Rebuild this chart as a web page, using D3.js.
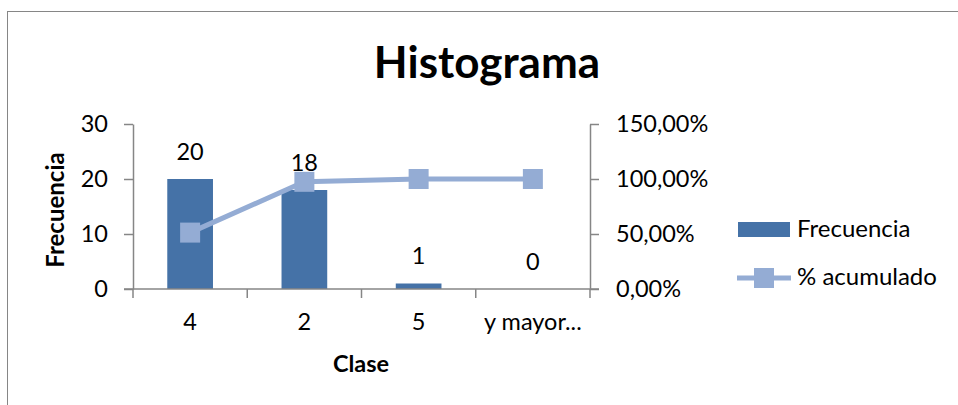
<!DOCTYPE html>
<html>
<head>
<meta charset="utf-8">
<script src="https://cdn.jsdelivr.net/npm/d3@7"></script>
<style>
  body { margin: 0; background: #fff; }
  svg { display: block; font-family: Lato, "Open Sans", sans-serif; }
</style>
</head>
<body>
<svg id="chart" width="958" height="405"></svg>
<script>
// chart data
const categories = ['4', '2', '5', 'y mayor...']
const frecuencia = [20, 18, 1, 0]
const acumulado = [51.28, 97.44, 100, 100]
const leftTicks = [0, 10, 20, 30]
const rightTicks = [0, 50, 100, 150]

const svg = d3.select('#chart')
const fs = '23.5px'

// outer frame
svg.append('rect')
    .attr('x', 7.5).attr('y', 11.5)
    .attr('width', 1000).attr('height', 500)
    .attr('fill', 'none')
    .attr('stroke', '#868686')
    .attr('stroke-width', 1)

var margin = { left: 133, right: 590, top: 124, bottom: 289 }

var x = d3.scaleBand()
    .domain(categories)
    .range([margin.left, margin.right])
    .paddingInner(0.6)
    .paddingOuter(0.3)
var xTicks = d3.scaleBand().domain(categories).range([margin.left, margin.right])

var y = d3.scaleLinear().domain([0, 30]).range([margin.bottom, margin.top])
var y2 = d3.scaleLinear().domain([0, 150]).range([margin.bottom, margin.top])

const axisColor = '#868686'

// title
svg.append('text')
    .attr('x', 487).attr('y', 78)
    .attr('text-anchor', 'middle')
    .style('font-size', '44px')
    .style('font-weight', 'bold')
    .text('Histograma')

// bars
svg.selectAll('.bar')
    .data(frecuencia)
    .enter().append('rect')
    .attr('class', 'bar')
    .attr('x', (d, i) => x(categories[i]))
    .attr('width', x.bandwidth())
    .attr('y', d => y(d))
    .attr('height', d => y(0) - y(d))
    .attr('fill', '#4572a7')

// left axis
let gl = svg.append('g')
    .attr('transform', 'translate(' + margin.left + ',0)')
    .call(d3.axisLeft(y).tickValues(leftTicks).tickSize(9).tickSizeOuter(0).tickPadding(16))
gl.select('.domain').attr('stroke', axisColor).attr('stroke-width', 1.5)
gl.selectAll('.tick line').attr('stroke', axisColor).attr('stroke-width', 1.5)
gl.selectAll('text').style('font-size', fs).attr('fill', '#000').attr('font-family', 'Lato')

// right axis
let gr = svg.append('g')
    .attr('transform', 'translate(' + margin.right + ',0)')
    .call(d3.axisRight(y2).tickValues(rightTicks).tickSize(9).tickSizeOuter(0).tickPadding(17)
        .tickFormat(d => d3.format('.2f')(d).replace('.', ',') + '%'))
gr.select('.domain').attr('stroke', axisColor).attr('stroke-width', 1.5)
gr.selectAll('.tick line').attr('stroke', axisColor).attr('stroke-width', 1.5)
gr.selectAll('text').style('font-size', fs).attr('fill', '#000').attr('font-family', 'Lato')

// bottom axis, ticks between categories
let gb = svg.append('g')
    .attr('transform', 'translate(0,' + margin.bottom + ')')
    .call(d3.axisBottom(x).tickSize(0).tickPadding(24))
gb.select('.domain').remove()
gb.selectAll('text').style('font-size', fs).attr('fill', '#000').attr('font-family', 'Lato')
svg.append('line')
    .attr('x1', margin.left - 9).attr('x2', margin.right + 9)
    .attr('y1', margin.bottom).attr('y2', margin.bottom)
    .attr('stroke', axisColor).attr('stroke-width', 1.5)
svg.selectAll('.xtick')
    .data(categories.concat(['end']))
    .enter().append('line')
    .attr('class', 'xtick')
    .attr('x1', (d, i) => i < categories.length ? xTicks(d) : margin.right)
    .attr('x2', (d, i) => i < categories.length ? xTicks(d) : margin.right)
    .attr('y1', margin.bottom).attr('y2', margin.bottom + 9)
    .attr('stroke', axisColor).attr('stroke-width', 1.5)

// cumulative line
const lineColor = '#94acd4'
let cx = (d, i) => x(categories[i]) + x.bandwidth() / 2
svg.append('path')
    .datum(acumulado)
    .attr('d', d3.line().x(cx).y(d => y2(d)))
    .attr('fill', 'none')
    .attr('stroke', lineColor)
    .attr('stroke-width', 5)
svg.selectAll('.marker')
    .data(acumulado)
    .enter().append('rect')
    .attr('class', 'marker')
    .attr('x', (d, i) => cx(d, i) - 10)
    .attr('y', d => y2(d) - 10)
    .attr('width', 20).attr('height', 20)
    .attr('fill', lineColor)

// data labels
svg.selectAll('.label')
    .data(frecuencia)
    .enter().append('text')
    .attr('class', 'label')
    .attr('x', (d, i) => cx(d, i))
    .attr('y', d => y(d) - 19.5)
    .attr('text-anchor', 'middle')
    .style('font-size', fs)
    .text(d => d)

// axis titles
svg.append('text')
    .attr('transform', 'translate(64,210) rotate(-90)')
    .attr('text-anchor', 'middle')
    .style('font-size', '24px')
    .style('font-weight', 'bold')
    .text('Frecuencia')
svg.append('text')
    .attr('x', 361).attr('y', 372)
    .attr('text-anchor', 'middle')
    .style('font-size', '23.5px')
    .style('font-weight', 'bold')
    .text('Clase')

// legend
svg.append('rect')
    .attr('x', 738).attr('y', 222)
    .attr('width', 52).attr('height', 15)
    .attr('fill', '#4572a7')
svg.append('text')
    .attr('x', 797).attr('y', 237)
    .style('font-size', '24px')
    .text('Frecuencia')
svg.append('line')
    .attr('x1', 737).attr('x2', 791)
    .attr('y1', 278).attr('y2', 278)
    .attr('stroke', lineColor).attr('stroke-width', 5)
svg.append('rect')
    .attr('x', 754).attr('y', 268)
    .attr('width', 20).attr('height', 20)
    .attr('fill', lineColor)
svg.append('text')
    .attr('x', 797).attr('y', 284.5)
    .style('font-size', '24px')
    .text('% acumulado')
</script>
</body>
</html>
